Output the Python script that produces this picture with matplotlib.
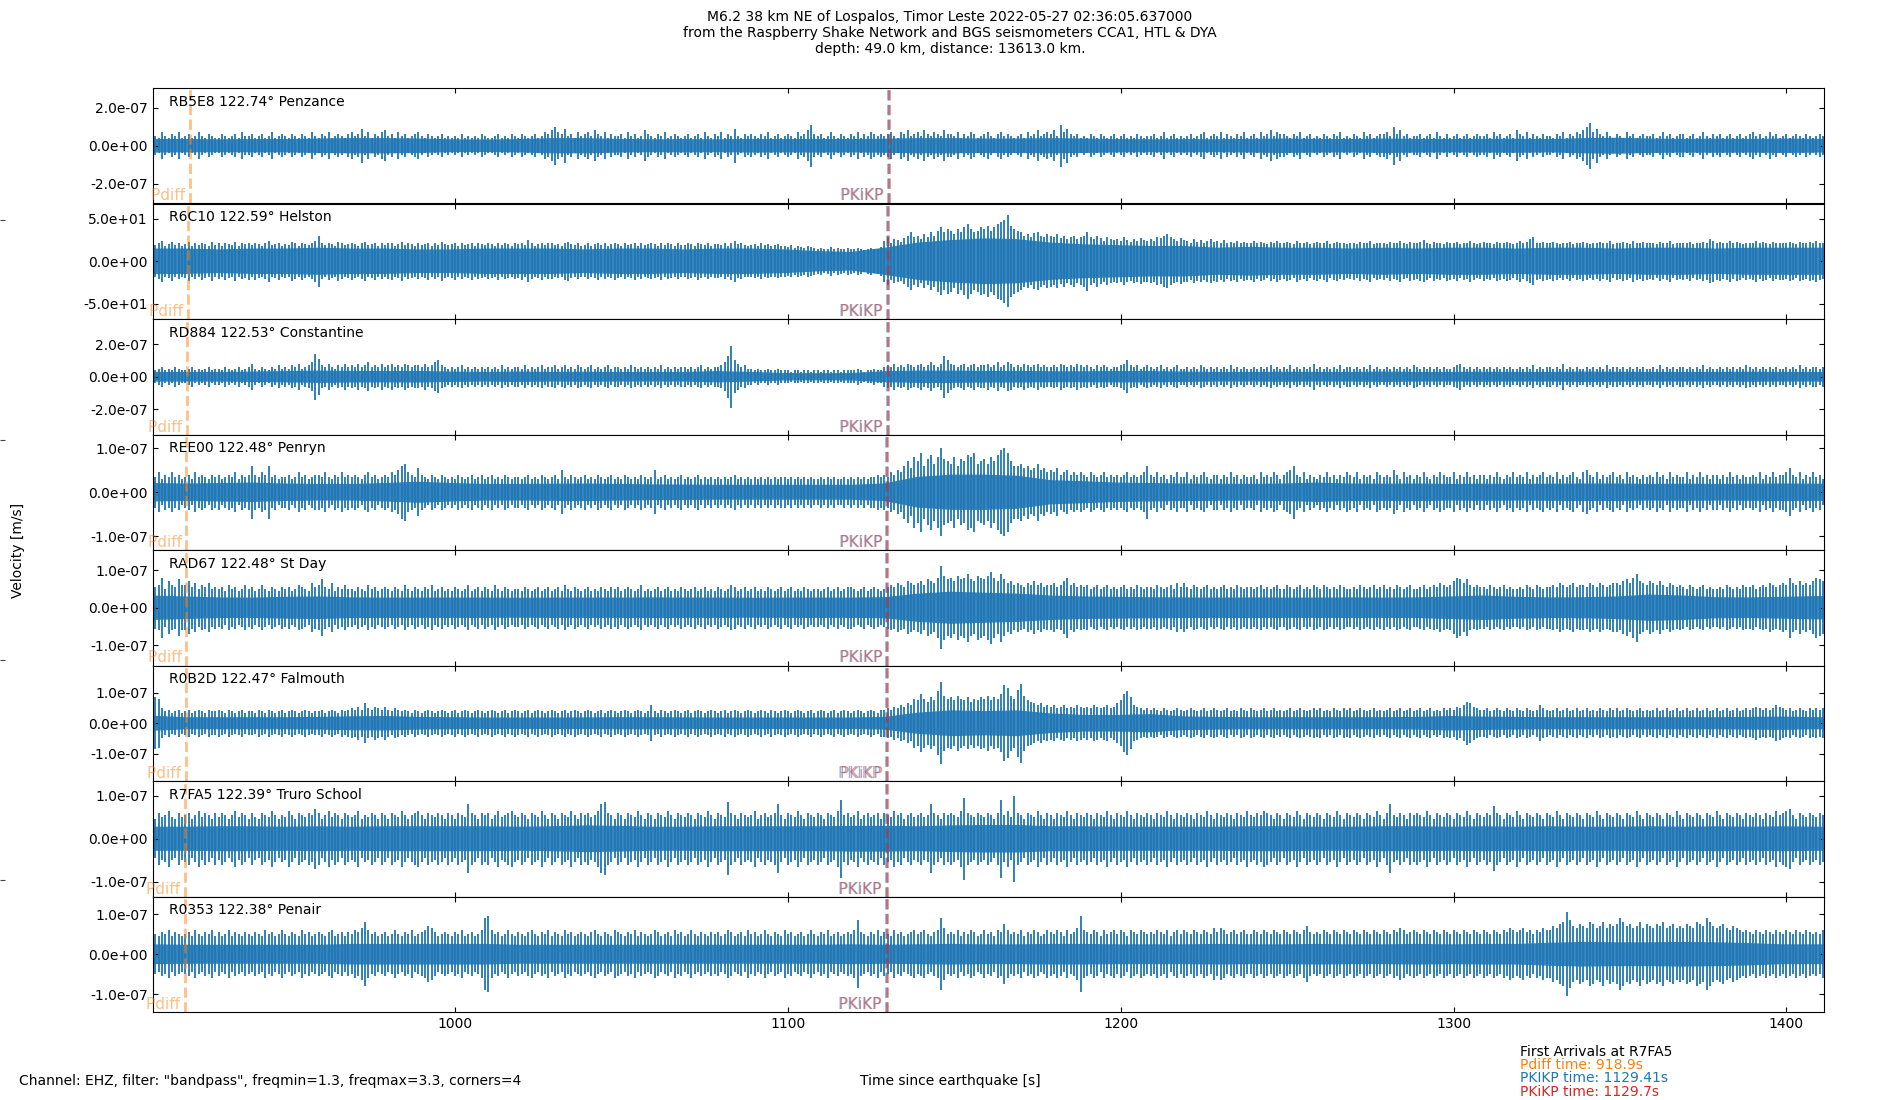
import numpy as np
import matplotlib
matplotlib.use("Agg")
import matplotlib.pyplot as plt
import matplotlib.transforms as mtransforms
from matplotlib.ticker import FuncFormatter

# ---------------- data ----------------
stations = ["RB5E8", "R6C10", "RD884", "REE00", "RAD67", "R0B2D", "R7FA5", "R0353"]
distances = [122.74, 122.59, 122.53, 122.48, 122.48, 122.47, 122.39, 122.38]
locations = ["Penzance", "Helston", "Constantine", "Penryn", "St Day",
             "Falmouth", "Truro School", "Penair"]

# arrival times (s since earthquake) per station
pdiff_times = [920.4, 919.8, 919.5, 919.3, 919.3, 919.25, 918.9, 918.85]
pkikp_times = [1130.1, 1129.8, 1129.7, 1129.6, 1129.6, 1129.56, 1129.41, 1129.39]   # PKIKP
pkikp_i_times = [1130.4, 1130.1, 1130.0, 1129.9, 1129.9, 1129.86, 1129.7, 1129.68]  # PKiKP

# multiplier that turns the listed numbers into velocity values
trace_units = [1e-8, 1.0, 1e-8, 5e-9, 5e-9, 5e-9, 5e-9, 5e-9]

# half-width of the dense core of each trace, one value every 10 s from 909 s
core_start = 909.0
core_step = 10.0
core_rb5e8 = [3.6, 3.5, 3.4, 3.5, 3.5, 3.8, 4.0, 4.0, 3.8, 3.4,
              3.3, 3.5, 4.0, 4.0, 3.6, 3.4, 3.5, 3.4, 3.6, 3.5,
              3.6, 3.5, 3.7, 4.0, 4.0, 3.8, 3.8, 4.0, 3.8, 3.5,
              3.4, 3.5, 3.4, 3.6, 3.8, 3.6, 3.5, 3.8, 3.6, 3.5,
              3.6, 3.7, 3.5, 4.0, 4.2, 3.8, 3.6, 3.7, 3.6, 3.8,
              3.6, 3.6]
core_r6c10 = [15, 15, 14, 15, 15, 16, 15, 15, 14, 14,
              15, 15, 15, 14, 15, 15, 14, 15, 15, 14,
              12, 11, 16, 22, 25, 27, 26, 22, 20, 19,
              18, 18, 16, 17, 16, 16, 15, 16, 15, 16,
              16, 15, 16, 16, 15, 16, 16, 15, 16, 16,
              16, 16]
core_rd884 = [3.0, 3.0, 3.0, 3.2, 3.5, 3.8, 3.6, 3.5, 3.6, 3.2,
              3.0, 3.2, 3.0, 3.1, 3.0, 3.0, 3.0, 3.5, 3.0, 2.3,
              2.2, 2.3, 3.4, 3.8, 3.8, 3.6, 3.6, 3.4, 3.4, 3.5,
              3.5, 3.2, 3.0, 3.0, 3.1, 3.0, 3.0, 3.2, 3.0, 3.0,
              3.1, 3.0, 3.0, 3.2, 3.1, 3.0, 3.0, 3.0, 3.1, 3.0,
              3.0, 3.0]
core_ree00 = [4.2, 4.0, 4.2, 4.4, 4.0, 3.8, 3.8, 4.2, 4.8, 4.2,
              3.8, 3.8, 3.9, 4.0, 3.8, 3.6, 3.5, 3.4, 3.4, 3.4,
              3.4, 3.4, 4.0, 7.0, 8.0, 8.0, 7.5, 5.5, 5.0, 4.4,
              4.2, 4.0, 3.9, 3.8, 4.0, 4.4, 4.0, 3.9, 4.0, 3.8,
              3.9, 3.8, 3.9, 4.0, 4.0, 3.8, 3.9, 3.8, 3.9, 4.0,
              3.9, 3.9]
core_rad67 = [6.5, 6.0, 5.5, 5.4, 5.8, 6.0, 5.5, 5.4, 5.4, 5.4,
              5.4, 5.3, 5.4, 5.4, 5.4, 5.5, 5.4, 5.4, 5.3, 5.4,
              5.4, 5.4, 5.6, 7.5, 8.5, 8.0, 7.5, 6.5, 6.0, 5.8,
              5.6, 5.5, 5.4, 5.5, 5.4, 5.4, 5.5, 5.4, 5.5, 6.0,
              6.5, 5.8, 5.5, 5.6, 6.0, 7.0, 6.5, 5.6, 5.5, 5.8,
              6.2, 6.2]
core_r0b2d = [5.0, 4.0, 4.0, 4.0, 4.0, 4.2, 4.6, 4.8, 4.2, 4.0,
              3.8, 3.8, 3.8, 3.9, 4.0, 4.0, 3.9, 3.8, 3.8, 3.8,
              3.8, 3.8, 4.2, 7.0, 8.5, 8.0, 8.5, 6.5, 5.5, 5.5,
              6.0, 4.5, 4.2, 4.0, 4.0, 4.0, 4.0, 4.0, 4.2, 4.8,
              4.4, 4.2, 4.0, 4.0, 4.0, 4.0, 4.0, 4.0, 4.2, 4.4,
              4.0, 4.0]
core_r7fa5 = [5.6, 5.6, 5.8, 5.8, 5.6, 5.8, 5.6, 5.8, 5.8, 5.8,
              5.8, 5.6, 5.8, 6.2, 6.0, 5.6, 5.6, 5.8, 5.8, 5.8,
              5.8, 6.0, 6.0, 5.8, 6.2, 6.4, 6.4, 5.8, 5.8, 5.6,
              5.6, 5.6, 5.6, 5.8, 5.8, 5.6, 5.6, 5.8, 5.8, 5.6,
              5.8, 5.6, 5.8, 5.6, 5.6, 5.8, 5.6, 5.8, 5.6, 5.8,
              5.6, 5.6]
core_r0353 = [5.0, 4.8, 4.8, 4.8, 4.8, 4.8, 5.2, 5.2, 5.2, 5.2,
              5.2, 4.8, 4.8, 4.8, 4.8, 4.8, 4.8, 4.8, 4.8, 4.8,
              4.8, 5.0, 4.8, 5.0, 5.2, 5.0, 5.0, 5.2, 5.2, 5.0,
              5.0, 5.0, 5.2, 5.0, 5.0, 5.2, 5.0, 5.0, 5.2, 5.0,
              5.2, 5.2, 5.8, 6.2, 6.0, 6.0, 6.2, 6.0, 5.6, 5.0,
              5.0, 5.0]
cores = [core_rb5e8, core_r6c10, core_rd884, core_ree00,
         core_rad67, core_r0b2d, core_r7fa5, core_r0353]

# height of the wiggle peaks, one value every second from 909 s
peak_start = 909.0
peak_step = 1.0
peak_rb5e8 = [
    6, 5, 4, 7, 5, 4, 6, 5, 7, 4,   5, 6, 4, 5, 7, 5, 4, 6, 5, 4,
    4, 6, 5, 4, 5, 6, 4, 7, 5, 5,   6, 4, 5, 6, 4, 5, 7, 4, 5, 6,
    5, 4, 6, 5, 4, 6, 5, 4, 7, 5,   4, 6, 5, 7, 4, 5, 6, 5, 4, 6,
    7, 5, 6, 9, 5, 7, 4, 6, 5, 7,   8, 5, 6, 4, 7, 5, 6, 4, 5, 6,
    7, 5, 4, 6, 5, 4, 5, 6, 4, 5,   4, 5, 4, 6, 4, 5, 4, 5, 4, 6,
    5, 4, 4, 5, 6, 4, 5, 4, 6, 5,   4, 6, 5, 4, 5, 6, 4, 5, 7, 6,
    8, 10, 7, 6, 9, 5, 6, 4, 7, 5,  6, 7, 5, 8, 6, 5, 7, 4, 6, 5,
    5, 6, 4, 7, 5, 6, 4, 5, 8, 6,   5, 4, 6, 5, 7, 4, 5, 6, 5, 4,
    5, 6, 4, 5, 6, 4, 7, 5, 4, 6,   5, 7, 4, 6, 5, 9, 5, 4, 6, 5,
    6, 5, 4, 6, 5, 7, 4, 5, 6, 4,   5, 6, 5, 4, 7, 5, 6, 8, 11, 6,
    5, 6, 4, 5, 7, 5, 4, 6, 5, 4,   6, 5, 7, 4, 6, 5, 7, 6, 5, 6,
    5, 6, 7, 5, 4, 7, 6, 8, 5, 6,   7, 5, 8, 6, 5, 7, 6, 5, 8, 6,
    6, 5, 7, 4, 6, 5, 7, 6, 4, 5,   6, 7, 5, 4, 6, 7, 5, 6, 5, 4,
    5, 6, 4, 7, 5, 6, 8, 5, 6, 7,   6, 8, 5, 11, 7, 9, 6, 5, 6, 4,
    5, 4, 6, 5, 4, 6, 5, 4, 5, 6,   4, 5, 6, 4, 5, 4, 6, 5, 4, 5,
    5, 6, 4, 5, 7, 4, 5, 6, 4, 5,   4, 5, 6, 4, 5, 6, 7, 4, 5, 6,
    5, 7, 4, 6, 5, 4, 6, 5, 7, 4,   5, 6, 4, 7, 5, 6, 8, 5, 7, 6,
    6, 5, 4, 6, 5, 7, 4, 5, 6, 4,   5, 4, 6, 5, 4, 6, 5, 7, 4, 5,
    4, 6, 5, 4, 7, 5, 6, 4, 5, 6,   6, 7, 5, 10, 6, 8, 5, 6, 4, 5,
    5, 6, 4, 5, 6, 4, 7, 5, 4, 6,   4, 5, 6, 4, 5, 6, 4, 5, 6, 5,
    5, 6, 4, 7, 5, 6, 4, 5, 6, 4,   8, 6, 5, 7, 4, 6, 5, 4, 6, 5,
    5, 4, 6, 5, 7, 4, 6, 5, 7, 6,   8, 10, 12, 7, 9, 6, 5, 7, 5, 4,
    6, 5, 4, 7, 5, 6, 4, 5, 6, 5,   5, 6, 4, 5, 7, 5, 6, 4, 5, 6,
    6, 4, 5, 6, 4, 5, 7, 5, 4, 6,   5, 6, 4, 5, 6, 4, 5, 6, 4, 5,
    6, 7, 5, 6, 4, 5, 7, 5, 6, 4,   5, 6, 4, 5, 6, 5, 4, 6, 5, 4,
    5, 6, 5,
]
peak_r6c10 = [
    22, 19, 21, 24, 18, 20, 23, 19, 21, 18,   20, 23, 18, 21, 19, 22, 20, 18, 23, 19,
    21, 18, 22, 20, 19, 23, 18, 21, 20, 22,   19, 22, 20, 18, 21, 24, 19, 20, 22, 18,
    20, 19, 23, 21, 18, 22, 20, 19, 21, 24,   30, 21, 19, 22, 20, 18, 23, 21, 19, 20,
    22, 20, 18, 21, 23, 19, 20, 22, 18, 21,   19, 21, 22, 18, 20, 23, 19, 21, 20, 18,
    21, 19, 20, 22, 18, 21, 19, 23, 20, 19,   20, 22, 18, 21, 19, 20, 22, 18, 21, 20,
    19, 21, 20, 18, 22, 19, 21, 20, 18, 21,   20, 22, 19, 25, 21, 18, 20, 22, 19, 21,
    21, 19, 20, 18, 22, 23, 20, 19, 21, 18,   19, 21, 18, 20, 22, 19, 21, 18, 20, 22,
    20, 18, 21, 19, 20, 22, 18, 21, 19, 20,   21, 20, 18, 22, 19, 21, 20, 18, 21, 19,
    19, 21, 20, 18, 22, 20, 19, 21, 18, 20,   20, 19, 21, 18, 22, 24, 20, 21, 19, 18,
    19, 20, 18, 21, 19, 20, 18, 19, 20, 18,   18, 17, 19, 16, 18, 17, 16, 18, 17, 16,
    15, 16, 14, 15, 17, 14, 16, 15, 14, 16,   15, 14, 16, 15, 13, 15, 16, 14, 15, 17,
    24, 28, 22, 26, 25, 23, 27, 30, 34, 28,   30, 26, 32, 28, 34, 30, 36, 40, 34, 38,
    36, 32, 38, 34, 40, 44, 38, 34, 36, 40,   38, 42, 36, 40, 44, 46, 49, 54, 42, 38,
    36, 34, 30, 32, 28, 33, 34, 30, 28, 32,   30, 28, 32, 27, 30, 26, 28, 30, 26, 28,
    30, 35, 28, 26, 30, 27, 24, 28, 26, 25,   26, 24, 28, 25, 23, 26, 24, 27, 25, 24,
    26, 24, 28, 27, 30, 32, 28, 26, 24, 27,   25, 24, 22, 26, 23, 25, 22, 24, 26, 23,
    24, 22, 25, 21, 23, 22, 24, 21, 23, 22,   22, 24, 21, 23, 22, 20, 23, 21, 24, 22,
    21, 23, 22, 20, 24, 22, 21, 23, 20, 22,   23, 21, 22, 24, 20, 22, 23, 21, 22, 20,
    21, 22, 20, 23, 21, 22, 24, 20, 22, 21,   22, 20, 23, 21, 22, 24, 21, 20, 23, 22,
    21, 23, 25, 22, 20, 23, 21, 22, 20, 23,   22, 21, 23, 20, 22, 21, 24, 22, 20, 21,
    23, 21, 22, 20, 23, 22, 21, 23, 22, 20,   22, 24, 21, 23, 26, 28, 22, 21, 23, 22,
    21, 23, 22, 20, 22, 21, 23, 20, 22, 21,   23, 22, 20, 22, 21, 23, 21, 22, 24, 20,
    22, 21, 23, 22, 20, 24, 22, 21, 23, 22,   21, 22, 20, 23, 21, 22, 24, 20, 22, 21,
    22, 21, 23, 20, 22, 21, 23, 22, 26, 24,   22, 23, 21, 22, 24, 21, 23, 22, 20, 22,
    21, 22, 24, 21, 23, 22, 20, 23, 21, 22,   22, 21, 23, 22, 20, 23, 22, 21, 23, 22,
    24, 22, 21,
]
peak_rd884 = [
    5, 4, 5, 6, 4, 5, 4, 6, 5, 4,   4, 5, 6, 4, 5, 4, 5, 6, 4, 5,
    5, 4, 6, 5, 4, 5, 6, 4, 5, 6,   8, 5, 4, 6, 5, 4, 6, 5, 7, 5,
    6, 5, 7, 6, 8, 5, 6, 7, 9, 14,  11, 7, 6, 8, 6, 5, 7, 6, 8, 6,
    7, 6, 8, 6, 7, 9, 6, 7, 6, 8,   6, 7, 8, 6, 7, 6, 8, 7, 6, 7,
    7, 6, 8, 6, 7, 9, 10, 7, 6, 5,  6, 5, 6, 7, 5, 6, 5, 6, 5, 6,
    5, 6, 5, 6, 5, 7, 5, 6, 5, 6,   6, 5, 7, 5, 6, 5, 6, 7, 5, 6,
    6, 7, 5, 6, 7, 5, 6, 5, 7, 6,   5, 6, 7, 5, 6, 5, 6, 7, 5, 6,
    6, 5, 6, 5, 7, 6, 5, 6, 5, 6,   5, 6, 5, 7, 5, 6, 5, 6, 5, 6,
    6, 5, 6, 5, 6, 7, 5, 6, 5, 6,   6, 7, 9, 13, 19, 10, 8, 6, 7, 5,
    5, 4, 5, 4, 4, 5, 4, 4, 5, 4,   4, 4, 3, 4, 4, 3, 4, 4, 3, 4,
    4, 3, 4, 4, 3, 4, 4, 3, 4, 4,   4, 4, 5, 4, 3, 4, 4, 5, 4, 4,
    6, 7, 6, 8, 6, 7, 6, 8, 7, 6,   7, 8, 6, 7, 9, 7, 6, 8, 13, 10,
    8, 7, 6, 7, 8, 6, 7, 8, 6, 7,   7, 8, 6, 7, 9, 6, 7, 9, 8, 6,
    7, 6, 8, 7, 6, 7, 8, 6, 7, 6,   6, 7, 6, 8, 7, 6, 7, 6, 8, 7,
    6, 7, 6, 5, 7, 6, 7, 6, 5, 6,   6, 7, 8, 10, 7, 6, 7, 5, 6, 7,
    6, 5, 6, 7, 5, 6, 5, 6, 7, 5,   5, 6, 5, 6, 5, 7, 6, 5, 6, 5,
    6, 5, 6, 5, 7, 5, 6, 5, 6, 5,   5, 6, 5, 6, 5, 6, 7, 5, 6, 5,
    6, 5, 7, 5, 6, 5, 6, 5, 6, 8,   5, 6, 5, 6, 5, 6, 5, 7, 5, 6,
    6, 5, 6, 5, 6, 5, 7, 5, 6, 5,   5, 6, 5, 6, 5, 6, 5, 6, 5, 7,
    6, 5, 6, 5, 6, 5, 6, 5, 6, 5,   5, 6, 7, 8, 6, 5, 6, 5, 6, 5,
    6, 5, 6, 5, 6, 5, 6, 5, 6, 5,   5, 6, 5, 6, 5, 7, 5, 6, 5, 6,
    6, 5, 6, 5, 8, 5, 6, 5, 6, 5,   5, 6, 5, 6, 5, 6, 5, 7, 5, 6,
    6, 5, 6, 5, 6, 5, 6, 5, 6, 5,   5, 6, 5, 7, 5, 6, 5, 6, 5, 6,
    6, 5, 6, 5, 6, 5, 7, 5, 6, 5,   5, 6, 5, 6, 5, 6, 5, 6, 5, 7,
    6, 5, 6, 5, 6, 5, 6, 5, 6, 5,   5, 6, 5, 6, 5, 7, 5, 6, 5, 6,
    6, 5, 6,
]
peak_ree00 = [
    8, 7, 9, 6, 8, 7, 9, 7, 8, 6,   7, 8, 6, 9, 7, 8, 7, 6, 8, 7,
    8, 6, 7, 8, 7, 9, 6, 8, 7, 8,   12, 8, 7, 9, 8, 12, 7, 8, 6, 7,
    7, 8, 6, 7, 9, 7, 8, 6, 7, 8,   8, 7, 9, 7, 6, 8, 7, 9, 7, 8,
    7, 8, 7, 6, 8, 9, 7, 8, 6, 7,   8, 7, 9, 8, 10, 12, 13, 9, 8, 7,
    11, 8, 7, 6, 8, 7, 6, 8, 7, 6,  7, 6, 8, 7, 6, 7, 8, 6, 7, 8,
    6, 7, 8, 6, 7, 6, 8, 7, 6, 7,   7, 6, 7, 8, 6, 7, 6, 8, 7, 6,
    7, 8, 6, 10, 7, 6, 8, 7, 6, 7,  8, 6, 7, 6, 8, 7, 6, 7, 8, 6,
    7, 6, 8, 7, 6, 7, 6, 8, 7, 6,   7, 10, 6, 7, 8, 6, 7, 6, 7, 8,
    6, 7, 6, 7, 8, 6, 7, 6, 7, 6,   7, 6, 7, 6, 7, 8, 6, 7, 6, 7,
    6, 7, 6, 7, 6, 7, 6, 7, 6, 7,   7, 6, 7, 6, 7, 6, 7, 6, 7, 6,
    6, 7, 6, 7, 6, 7, 6, 6, 7, 6,   7, 6, 7, 6, 7, 6, 7, 7, 8, 7,
    8, 7, 9, 8, 10, 9, 12, 14, 11, 16,   14, 18, 12, 15, 17, 13, 16, 20, 15, 14,
    13, 16, 12, 15, 14, 17, 16, 18, 13, 14,   15, 13, 16, 14, 17, 19, 20, 18, 14, 12,
    12, 13, 11, 12, 10, 11, 13, 10, 11, 9,   10, 9, 11, 8, 9, 10, 8, 9, 8, 9,
    8, 7, 9, 8, 7, 8, 9, 7, 8, 7,   8, 7, 8, 9, 7, 8, 7, 8, 9, 12,
    8, 7, 9, 7, 8, 6, 8, 7, 9, 7,   7, 9, 6, 8, 7, 8, 9, 7, 6, 8,
    8, 6, 8, 7, 9, 7, 8, 6, 8, 7,   7, 8, 6, 9, 7, 8, 7, 9, 8, 6,
    8, 9, 10, 12, 8, 7, 9, 6, 8, 7,   6, 8, 7, 9, 7, 8, 6, 8, 7, 9,
    8, 7, 9, 6, 8, 7, 8, 6, 9, 8,   7, 8, 7, 10, 8, 6, 9, 7, 8, 6,
    8, 7, 9, 7, 6, 8, 7, 9, 8, 7,   7, 9, 6, 8, 7, 9, 7, 8, 6, 8,
    8, 6, 8, 7, 9, 7, 6, 8, 7, 9,   7, 8, 7, 9, 6, 8, 7, 8, 9, 7,
    8, 7, 9, 6, 8, 7, 8, 9, 7, 6,   9, 10, 8, 7, 9, 6, 8, 7, 8, 9,
    7, 8, 6, 9, 7, 8, 7, 6, 8, 7,   8, 7, 9, 7, 8, 6, 9, 7, 8, 7,
    7, 9, 6, 8, 7, 9, 7, 8, 6, 8,   8, 6, 8, 7, 9, 7, 8, 6, 8, 7,
    7, 8, 7, 9, 6, 8, 7, 9, 7, 8,   8, 9, 11, 8, 7, 9, 6, 8, 7, 9,
    7, 8, 6,
]
peak_rad67 = [
    13, 11, 12, 16, 10, 14, 12, 11, 15, 12,   12, 14, 11, 13, 10, 12, 11, 13, 10, 11,
    10, 11, 9, 12, 10, 11, 9, 10, 12, 10,   11, 9, 10, 12, 10, 9, 11, 10, 9, 11,
    10, 11, 9, 10, 12, 11, 10, 9, 13, 11,   12, 15, 11, 10, 13, 9, 11, 10, 12, 10,
    10, 9, 11, 10, 9, 12, 10, 11, 9, 10,   11, 10, 9, 11, 10, 9, 12, 10, 9, 11,
    10, 9, 11, 10, 12, 9, 10, 11, 9, 10,   9, 11, 10, 9, 10, 12, 9, 10, 11, 9,
    11, 10, 9, 12, 10, 9, 11, 10, 9, 10,   10, 9, 11, 10, 9, 10, 11, 9, 10, 11,
    9, 10, 11, 9, 12, 10, 9, 11, 10, 9,   10, 11, 9, 10, 9, 11, 10, 9, 11, 10,
    11, 9, 10, 11, 10, 9, 10, 12, 9, 10,   9, 10, 11, 9, 10, 11, 9, 10, 9, 11,
    10, 9, 10, 11, 9, 10, 11, 9, 10, 9,   11, 10, 9, 10, 12, 11, 9, 10, 11, 9,
    10, 11, 9, 10, 9, 11, 10, 9, 10, 11,   9, 10, 11, 9, 10, 9, 11, 10, 9, 10,
    10, 9, 10, 11, 9, 10, 11, 9, 10, 11,   11, 10, 9, 10, 11, 9, 10, 11, 10, 9,
    10, 11, 12, 11, 13, 12, 11, 14, 13, 12,   13, 14, 12, 15, 14, 13, 16, 22, 17, 15,
    16, 14, 17, 15, 16, 18, 15, 14, 17, 16,   15, 17, 19, 16, 14, 18, 15, 13, 14, 12,
    13, 12, 11, 13, 12, 14, 12, 13, 11, 12,   12, 13, 11, 12, 14, 16, 12, 13, 11, 12,
    11, 12, 10, 11, 12, 10, 11, 12, 10, 11,   10, 11, 12, 10, 11, 10, 12, 11, 10, 11,
    11, 10, 12, 11, 10, 11, 12, 10, 13, 11,   13, 11, 10, 12, 11, 10, 11, 12, 10, 11,
    10, 11, 12, 10, 11, 10, 12, 11, 10, 11,   11, 10, 11, 12, 10, 11, 10, 11, 12, 10,
    10, 12, 11, 10, 11, 12, 10, 11, 10, 12,   11, 10, 12, 11, 10, 11, 10, 12, 11, 10,
    10, 11, 10, 12, 11, 10, 11, 12, 10, 11,   12, 10, 11, 10, 12, 11, 10, 11, 12, 10,
    10, 11, 12, 10, 11, 12, 11, 13, 12, 11,   12, 14, 16, 15, 13, 15, 12, 11, 12, 11,
    11, 10, 12, 11, 10, 11, 12, 10, 11, 10,   10, 11, 10, 12, 11, 10, 12, 11, 10, 11,
    11, 12, 11, 13, 12, 11, 12, 13, 11, 12,   12, 11, 13, 12, 11, 13, 12, 11, 12, 13,
    13, 12, 14, 15, 13, 16, 18, 14, 13, 12,   14, 13, 12, 14, 12, 11, 13, 12, 11, 12,
    11, 10, 12, 11, 10, 11, 12, 10, 11, 10,   10, 11, 10, 12, 11, 10, 11, 10, 12, 11,
    11, 12, 10, 11, 12, 11, 13, 12, 11, 12,   13, 12, 16, 13, 12, 14, 12, 13, 12, 14,
    16, 15, 14,
]
peak_r0b2d = [
    19, 17, 16, 10, 8, 9, 7, 8, 9, 7,   8, 9, 7, 8, 9, 8, 7, 9, 8, 8,
    9, 8, 7, 9, 8, 7, 8, 9, 7, 8,   8, 7, 9, 8, 7, 9, 8, 7, 8, 9,
    7, 8, 9, 8, 7, 8, 9, 8, 7, 8,   8, 9, 7, 8, 9, 8, 7, 9, 8, 9,
    10, 9, 11, 9, 13, 10, 9, 11, 10, 9,   11, 9, 8, 10, 9, 8, 9, 8, 7, 9,
    8, 7, 8, 9, 8, 7, 8, 9, 8, 7,   8, 9, 7, 8, 9, 8, 7, 8, 9, 8,
    7, 8, 9, 8, 7, 8, 9, 7, 8, 9,   8, 7, 8, 9, 7, 8, 9, 8, 7, 8,
    9, 8, 7, 8, 9, 7, 8, 9, 8, 7,   8, 9, 8, 7, 8, 9, 7, 8, 9, 8,
    7, 8, 9, 8, 7, 8, 9, 8, 7, 8,   12, 8, 7, 9, 8, 7, 8, 9, 8, 7,
    8, 9, 7, 8, 9, 8, 7, 8, 9, 8,   7, 8, 9, 7, 8, 9, 8, 7, 8, 9,
    8, 7, 8, 9, 8, 7, 9, 8, 7, 8,   9, 8, 7, 8, 9, 8, 7, 8, 9, 7,
    8, 9, 8, 7, 8, 9, 7, 8, 9, 8,   7, 8, 9, 8, 7, 8, 9, 8, 7, 9,
    9, 10, 9, 11, 10, 12, 11, 13, 12, 16,   15, 19, 16, 14, 17, 15, 21, 27, 18, 16,
    17, 15, 18, 16, 15, 17, 14, 16, 15, 17,   16, 18, 15, 17, 16, 19, 25, 23, 18, 16,
    22, 26, 18, 15, 14, 13, 12, 13, 11, 12,   11, 12, 10, 11, 12, 10, 11, 10, 12, 11,
    10, 11, 10, 12, 11, 10, 11, 12, 10, 11,   13, 15, 19, 21, 17, 12, 11, 10, 9, 10,
    9, 10, 9, 8, 10, 9, 8, 9, 10, 9,   8, 9, 10, 9, 8, 9, 10, 8, 9, 10,
    9, 8, 9, 10, 8, 9, 8, 10, 9, 8,   10, 9, 8, 9, 10, 8, 9, 10, 8, 9,
    8, 9, 10, 8, 9, 10, 9, 8, 9, 10,   9, 10, 8, 9, 8, 10, 9, 8, 10, 9,
    10, 8, 9, 10, 9, 8, 9, 10, 8, 9,   8, 9, 10, 8, 9, 10, 8, 9, 10, 8,
    9, 10, 8, 9, 10, 8, 9, 8, 10, 9,   10, 9, 11, 10, 12, 14, 13, 11, 10, 9,
    9, 10, 8, 9, 10, 9, 8, 10, 9, 8,   10, 9, 8, 10, 9, 8, 9, 12, 10, 9,
    8, 9, 10, 8, 9, 10, 8, 9, 10, 8,   9, 10, 8, 9, 8, 10, 9, 8, 10, 9,
    10, 8, 9, 10, 9, 8, 9, 10, 8, 9,   8, 9, 10, 8, 9, 10, 8, 9, 10, 8,
    9, 10, 8, 9, 10, 8, 9, 10, 8, 9,   10, 8, 9, 10, 8, 9, 10, 8, 9, 10,
    9, 10, 11, 10, 9, 10, 9, 10, 12, 11,   10, 9, 10, 8, 9, 10, 9, 8, 10, 9,
    10, 9, 10,
]
peak_r7fa5 = [
    11, 9, 12, 10, 11, 13, 10, 9, 12, 10,   11, 12, 9, 11, 13, 10, 12, 11, 9, 12,
    10, 12, 11, 9, 11, 13, 10, 12, 11, 9,   12, 10, 9, 12, 11, 10, 13, 11, 9, 11,
    10, 13, 11, 9, 12, 11, 10, 12, 11, 14,   12, 9, 11, 13, 10, 12, 11, 9, 12, 11,
    10, 11, 13, 9, 11, 10, 12, 11, 9, 12,   11, 9, 12, 11, 10, 13, 11, 9, 11, 12,
    13, 11, 9, 12, 11, 10, 12, 11, 9, 12,   11, 9, 12, 11, 10, 16, 12, 11, 9, 12,
    11, 12, 9, 11, 13, 10, 11, 12, 13, 11,   10, 12, 11, 9, 12, 11, 10, 13, 11, 9,
    12, 11, 9, 12, 11, 10, 13, 11, 9, 12,   11, 12, 10, 11, 13, 16, 17, 12, 11, 9,
    12, 11, 9, 12, 11, 10, 13, 11, 9, 12,   11, 9, 12, 11, 10, 13, 11, 9, 12, 11,
    10, 12, 11, 9, 12, 11, 10, 13, 11, 9,   12, 11, 10, 17, 12, 11, 9, 12, 11, 10,
    11, 13, 9, 11, 12, 10, 11, 12, 16, 11,   9, 12, 11, 10, 13, 11, 9, 12, 11, 10,
    12, 11, 9, 12, 11, 10, 13, 18, 11, 12,   10, 11, 13, 9, 11, 12, 10, 11, 12, 9,
    12, 11, 10, 13, 11, 12, 9, 11, 12, 10,   11, 12, 10, 11, 16, 12, 11, 9, 12, 11,
    12, 11, 10, 13, 19, 12, 11, 10, 12, 11,   10, 12, 11, 9, 12, 18, 11, 13, 10, 20,
    12, 11, 9, 12, 11, 10, 13, 11, 9, 12,   11, 9, 12, 11, 10, 13, 11, 9, 12, 11,
    10, 12, 11, 9, 12, 11, 10, 13, 11, 9,   12, 11, 10, 13, 11, 9, 12, 11, 10, 12,
    11, 9, 12, 11, 10, 13, 11, 9, 12, 11,   10, 12, 11, 9, 12, 11, 10, 13, 11, 9,
    12, 11, 10, 12, 11, 9, 12, 11, 10, 13,   11, 10, 12, 11, 13, 12, 11, 9, 12, 11,
    9, 12, 11, 10, 13, 11, 9, 12, 11, 10,   12, 11, 9, 12, 11, 10, 13, 11, 9, 12,
    11, 10, 12, 11, 9, 12, 11, 10, 13, 11,   9, 12, 16, 11, 10, 12, 11, 9, 12, 11,
    12, 11, 10, 13, 11, 9, 12, 11, 10, 12,   11, 9, 12, 11, 10, 13, 11, 9, 12, 11,
    10, 12, 11, 15, 12, 11, 9, 12, 11, 10,   13, 11, 9, 12, 11, 10, 12, 11, 9, 12,
    11, 10, 13, 11, 9, 12, 11, 10, 12, 11,   9, 12, 11, 10, 13, 11, 9, 12, 11, 10,
    12, 11, 9, 12, 11, 10, 13, 11, 9, 12,   11, 10, 12, 11, 9, 12, 11, 10, 13, 11,
    9, 12, 11, 10, 12, 11, 9, 12, 11, 10,   13, 11, 9, 12, 11, 10, 12, 11, 9, 12,
    11, 10, 12, 11, 9, 12, 11, 10, 13, 11,   12, 13, 14, 11, 9, 12, 11, 10, 12, 11,
    10, 12, 11,
]
peak_r0353 = [
    12, 10, 9, 11, 10, 12, 9, 11, 10, 9,   10, 11, 9, 12, 10, 9, 11, 10, 12, 9,
    11, 9, 10, 12, 9, 11, 10, 9, 11, 10,   9, 11, 10, 9, 12, 10, 11, 9, 10, 12,
    10, 9, 11, 10, 9, 12, 10, 11, 9, 10,   11, 10, 9, 11, 12, 9, 10, 11, 9, 11,
    10, 12, 11, 13, 16, 12, 10, 11, 9, 10,   11, 9, 10, 12, 10, 9, 11, 10, 12, 9,
    10, 11, 12, 14, 13, 11, 9, 10, 11, 10,   9, 11, 10, 12, 9, 10, 11, 9, 10, 12,
    18, 19, 12, 10, 11, 9, 10, 12, 10, 9,   11, 10, 9, 11, 12, 10, 9, 11, 10, 12,
    9, 11, 10, 9, 12, 10, 11, 9, 10, 11,   10, 9, 11, 12, 10, 9, 11, 10, 9, 12,
    11, 10, 9, 11, 10, 12, 9, 11, 10, 9,   10, 12, 11, 9, 10, 11, 9, 12, 10, 11,
    9, 10, 12, 10, 9, 11, 10, 9, 11, 10,   11, 9, 10, 12, 11, 9, 10, 11, 9, 12,
    10, 11, 9, 10, 12, 10, 9, 11, 10, 9,   12, 10, 11, 9, 10, 11, 9, 10, 12, 10,
    9, 11, 10, 12, 9, 10, 11, 9, 10, 11,   10, 12, 17, 11, 10, 9, 11, 10, 12, 9,
    11, 10, 9, 12, 10, 11, 9, 10, 11, 12,   10, 11, 12, 10, 9, 11, 12, 18, 13, 10,
    11, 10, 12, 9, 11, 10, 12, 11, 9, 10,   12, 10, 11, 9, 12, 11, 15, 12, 10, 11,
    10, 12, 9, 11, 10, 12, 11, 9, 10, 12,   11, 10, 12, 11, 9, 12, 10, 11, 13, 19,
    12, 11, 10, 12, 11, 9, 12, 10, 11, 12,   10, 12, 11, 9, 12, 11, 10, 12, 11, 10,
    11, 10, 12, 11, 10, 12, 9, 11, 12, 10,   12, 11, 10, 12, 11, 10, 12, 11, 10, 13,
    11, 13, 12, 10, 11, 12, 10, 11, 12, 10,   10, 12, 11, 10, 12, 11, 10, 12, 11, 10,
    12, 11, 10, 12, 11, 10, 12, 14, 11, 10,   11, 10, 12, 11, 10, 12, 11, 10, 12, 11,
    10, 12, 11, 10, 12, 11, 10, 12, 11, 10,   12, 11, 10, 12, 11, 13, 12, 10, 11, 12,
    11, 10, 12, 11, 10, 12, 11, 10, 12, 11,   10, 12, 11, 10, 12, 11, 10, 12, 11, 10,
    12, 11, 10, 12, 11, 10, 12, 11, 13, 12,   11, 12, 13, 11, 12, 10, 12, 11, 13, 12,
    12, 14, 13, 15, 16, 21, 17, 14, 13, 15,   14, 13, 16, 15, 13, 14, 16, 13, 15, 14,
    15, 18, 16, 14, 15, 13, 14, 16, 13, 15,   14, 13, 15, 14, 16, 13, 14, 15, 13, 14,
    13, 15, 14, 13, 16, 15, 14, 18, 16, 14,   13, 14, 15, 13, 12, 14, 13, 12, 11, 12,
    11, 10, 12, 11, 10, 12, 11, 10, 12, 11,   10, 12, 11, 10, 12, 11, 10, 12, 11, 10,
    11, 10, 12,
]
peaks = [peak_rb5e8, peak_r6c10, peak_rd884, peak_ree00,
         peak_rad67, peak_r0b2d, peak_r7fa5, peak_r0353]

# axis settings
y_limits = [3.02e-7, 68.0, 3.55e-7, 1.31e-7, 1.53e-7, 1.9e-7, 1.34e-7, 1.45e-7]
y_tick_sets = [[-2e-7, 0, 2e-7], [-50, 0, 50], [-2e-7, 0, 2e-7], [-1e-7, 0, 1e-7],
               [-1e-7, 0, 1e-7], [-1e-7, 0, 1e-7], [-1e-7, 0, 1e-7], [-1e-7, 0, 1e-7]]
x_ticks = [1000, 1100, 1200, 1300, 1400]
x_limits = (909.2, 1411.4)

title_text = ("M6.2 38 km NE of Lospalos, Timor Leste 2022-05-27 02:36:05.637000\n"
              "from the Raspberry Shake Network and BGS seismometers CCA1, HTL & DYA\n"
              "depth: 49.0 km, distance: 13613.0 km.")
filter_text = 'Channel: EHZ, filter: "bandpass", freqmin=1.3, freqmax=3.3, corners=4'
arrival_lines = ["First Arrivals at R7FA5", "Pdiff time: 918.9s",
                 "PKIKP time: 1129.41s", "PKiKP time: 1129.7s"]

# ---------------- figure ----------------
plt.rcParams["font.family"] = ["DejaVu Sans"]
plt.rcParams["font.size"] = 10

fig = plt.figure(figsize=(19, 11), dpi=100)

# background full-figure axes (only shows small tick marks at the left edge)
bg = fig.add_axes([0, 0, 1, 1], frameon=False, zorder=-5)
bg.set_xlim(0, 1)
bg.set_ylim(0, 1)
bg.set_xticks([])
bg.set_yticks([0.2, 0.4, 0.6, 0.8])
bg.set_yticklabels([])
bg.tick_params(axis="y", direction="in", length=3.5, color="#444444")

left, right, top, bottom = 0.0804, 0.9602, 0.92, 0.08
n = len(stations)
h = (top - bottom) / n

fmt = FuncFormatter(lambda v, p: f"{v:.1e}")
C_TRACE = "#1f77b4"
C_PDIFF = "#ff7f0e"
C_PKIKP = "#1f77b4"
C_PKIKP_I = "#d62728"

for k in range(n):
    ax = fig.add_axes([left, top - (k + 1) * h, right - left, h])
    core = np.array(cores[k], dtype=float) * trace_units[k]
    tc = core_start + core_step * np.arange(len(core))
    pk = np.array(peaks[k], dtype=float) * trace_units[k]
    tp = peak_start + peak_step * np.arange(len(pk))
    ax.fill_between(tc, -core, core, facecolor=C_TRACE, lw=0, alpha=0.9)
    ax.vlines(tp, -pk, pk, color=C_TRACE, lw=1.3)

    ax.set_xlim(*x_limits)
    ax.set_ylim(-y_limits[k], y_limits[k])
    ax.set_yticks(y_tick_sets[k])
    ax.yaxis.set_major_formatter(fmt)
    ax.set_xticks(x_ticks)
    ax.tick_params(direction="in", top=True, right=True, length=3.5)
    if k < n - 1:
        ax.set_xticklabels([])

    # arrival markers
    tb = mtransforms.blended_transform_factory(ax.transData, ax.transAxes)
    ax.axvline(pdiff_times[k], color=C_PDIFF, ls="--", lw=2, alpha=0.5)
    ax.axvline(pkikp_times[k], color=C_PKIKP, ls="--", lw=2, alpha=0.5)
    ax.axvline(pkikp_i_times[k], color=C_PKIKP_I, ls="--", lw=2, alpha=0.5)
    ax.text(pdiff_times[k], 0.0, "Pdiff ", transform=tb, ha="right", va="bottom",
            color=C_PDIFF, alpha=0.5, fontsize=11)
    ax.text(pkikp_times[k], 0.0, "PKIKP ", transform=tb, ha="right", va="bottom",
            color=C_PKIKP, alpha=0.5, fontsize=11)
    ax.text(pkikp_i_times[k], 0.0, "PKiKP ", transform=tb, ha="right", va="bottom",
            color=C_PKIKP_I, alpha=0.5, fontsize=11)

    ax.text(0.01, 0.94, f"{stations[k]} {distances[k]:.2f}\u00b0 {locations[k]}",
            transform=ax.transAxes, ha="left", va="top", fontsize=10)

fig.text(0.5, 0.991, title_text, ha="center", va="top", fontsize=10)
fig.text(0.0095, 0.5, "Velocity [m/s]", rotation=90, ha="center", va="center", fontsize=10)
fig.text(0.5, 0.0173, "Time since earthquake [s]", ha="center", va="center", fontsize=10)
fig.text(0.01, 0.0173, filter_text, ha="left", va="center", fontsize=10)

arrival_colors = ["black", C_PDIFF, C_PKIKP, C_PKIKP_I]
arrival_y = [0.0438, 0.0316, 0.0196, 0.0075]
for txt, col, yy in zip(arrival_lines, arrival_colors, arrival_y):
    fig.text(0.8, yy, txt, ha="left", va="center", color=col, fontsize=10)

fig.savefig("out.png", dpi=100)
